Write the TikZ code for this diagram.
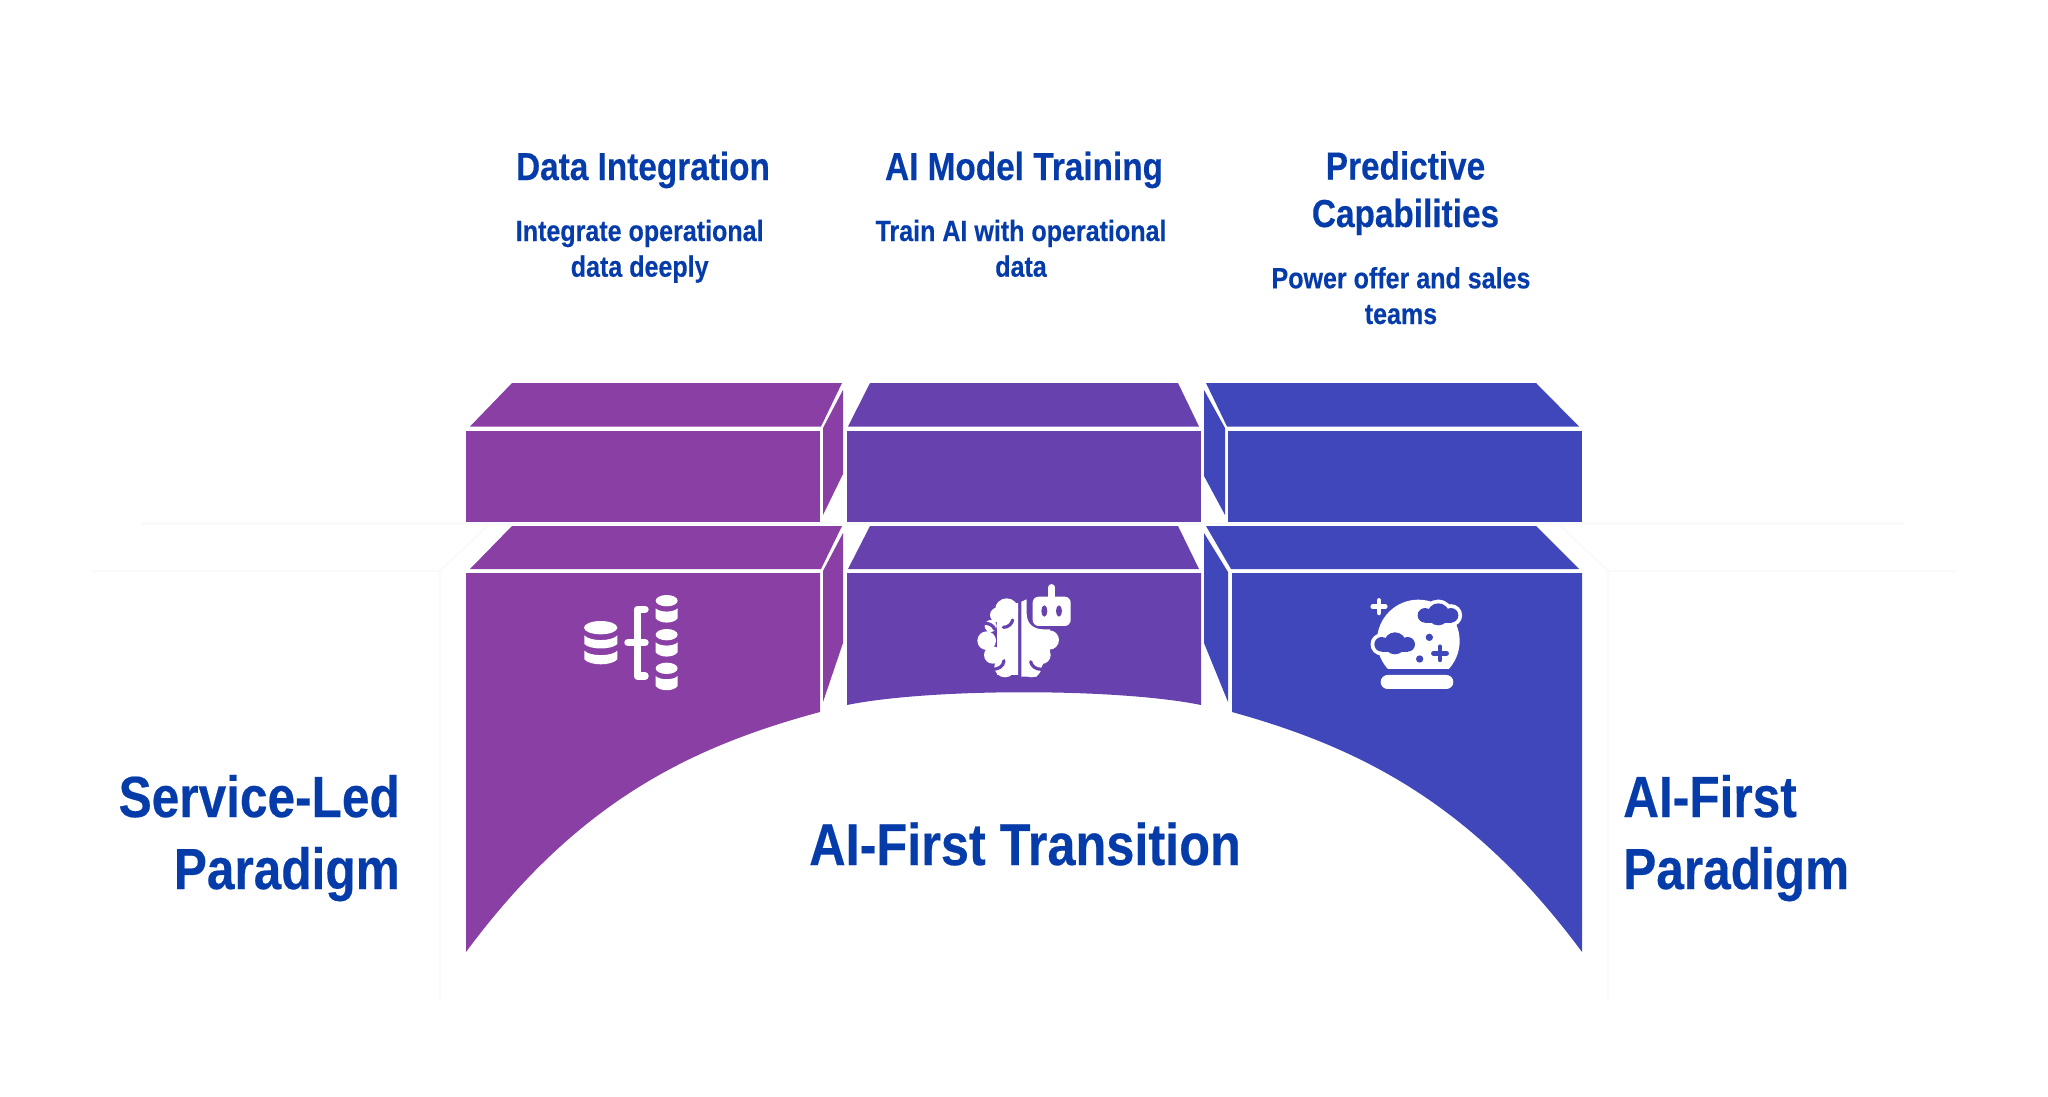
\documentclass[tikz,border=0pt]{standalone}
\usepackage{fontspec}
\setmainfont[FakeStretch=0.855,BoldFeatures={FakeBold=0.35}]{Liberation Sans}
\definecolor{purplebox}{HTML}{8A3FA5}
\definecolor{violetbox}{HTML}{6742AE}
\definecolor{bluebox}{HTML}{4047BA}
\definecolor{labelblue}{HTML}{063CAA}
\definecolor{faintline}{HTML}{FAFAFA}
\tikzset{
  headlbl/.style={anchor=base,align=center,text=labelblue,font=\fontsize{39}{47.5}\selectfont\bfseries,inner sep=0pt},
  sublbl/.style={anchor=base,align=center,text=labelblue,font=\fontsize{29.3}{35.7}\selectfont\bfseries,inner sep=0pt},
  biglbl/.style={anchor=base,text=labelblue,font=\fontsize{58}{72}\selectfont\bfseries,inner sep=0pt},
  iconline/.style={draw=white,line cap=round,line join=round},
  braincut/.style={draw=violetbox,line width=3.2pt,line cap=round},
}
\newcommand{\candisk}[1]{
  \fill[white](290,#1)ellipse[x radius=33,y radius=17];
  \fill[white](257,#1+23)..controls(270,#1+36)and(310,#1+36)..(323,#1+23)--(323,#1+53)..controls(310,#1+70)and(270,#1+70)..(257,#1+53)--cycle;
}
\newcommand{\cloudshape}[2]{(#1-40,#2+3)circle[radius=22](#1,#2)circle[radius=33](#1+38,#2+3)circle[radius=22]}
\begin{document}
\begin{tikzpicture}[x=1pt,y=-1pt]
        \useasboundingbox(0,0)rectangle(2048,1097);

        \draw[faintline,line width=2.5pt](142,523.5)--(1904,523.5);
        \draw[faintline,line width=2.5pt](93,571)--(440,571)--(440,1002);
        \draw[faintline,line width=2.5pt](440,571)--(490,523.5);
        \draw[faintline,line width=2.5pt](1955,571)--(1608,571)--(1608,1002);
        \draw[faintline,line width=2.5pt](1608,571)--(1558,523.5);

        \fill[purplebox](470,426.5)--(512,383)--(842,383)--(821,426.5)--cycle;
        \fill[purplebox](466,431)rectangle(820,522);
        \fill[purplebox](823,428)--(843,390)--(843,474)--(823,515)--cycle;
        \fill[purplebox](470,569)--(512,526)--(842,526)--(821,569)--cycle;
        \fill[purplebox](823,571)--(843,533)--(843,643)--(823,702)--cycle;
        \fill[purplebox](466,573)--(820,573)--(820,712)..controls(690,747)and(577,802)..(466,952)--cycle;

        \fill[violetbox](848,426.5)--(870,383)--(1178,383)--(1199,426.5)--cycle;
        \fill[violetbox](847,431)rectangle(1201,522);
        \fill[violetbox](848,569)--(870,526)--(1178,526)--(1199,569)--cycle;
        \fill[violetbox](847,573)--(1201,573)--(1201,705)..controls(1118,688)and(930,688)..(847,705)--cycle;

        \fill[bluebox](1206,383)--(1536,383)--(1579,426.5)--(1227,426.5)--cycle;
        \fill[bluebox](1228,431)rectangle(1582,522);
        \fill[bluebox](1204,390)--(1225,428)--(1225,515)--(1204,476)--cycle;
        \fill[bluebox](1206,526)--(1536,526)--(1579,569)--(1231,569)--cycle;
        \fill[bluebox](1204,533)--(1228,572)--(1228,702)--(1204,643)--cycle;
        \fill[bluebox](1232,573)--(1582,573)--(1582,952)..controls(1471,802)and(1358,747)..(1232,712)--cycle;

        \begin{scope}[shift={(570,580)},x=0.3333pt,y=-0.3333pt]
            \fill[white](92,143)ellipse[x radius=50,y radius=20];
            \fill[white](43,166)..controls(60,185)and(125,185)..(142,166)--(142,192)..controls(125,210)and(60,210)..(43,192)--cycle;
            \fill[white](43,212)..controls(60,230)and(125,230)..(142,212)--(142,238)..controls(125,258)and(60,258)..(43,238)--cycle;
            \candisk{62}
            \candisk{164}
            \candisk{265}
            \draw[iconline,line width=7.5pt](225,88)--(202,88)--(202,288)--(225,288);
            \draw[iconline,line width=7.5pt](174,188)--(225,188);
        \end{scope}

        \begin{scope}[shift={(960,570)},x=0.3333pt,y=-0.3333pt]
            \begin{scope}
                \clip(0,0)rectangle(174,340);
                \fill[white](140,120)circle[radius=35](112,135)circle[radius=22](92,168)circle[radius=18](80,212)circle[radius=28](98,255)circle[radius=26](135,290)circle[radius=32];
                \fill[white](110,100)rectangle(180,315);
            \end{scope}
            \draw[braincut](68,160)..controls(85,158)and(100,165)..(104,178);
            \draw[braincut](130,172)..controls(145,172)and(155,162)..(158,150);
            \draw[braincut](132,272)..controls(130,290)and(115,298)..(98,298);
            \fill[white](184,95)--(200,88)--(200,130)..controls(200,165)and(225,178)..(250,178)--(270,178)--(270,240)--(230,320)--(184,320)--cycle;
            \fill[white](268,210)circle[radius=29](245,255)circle[radius=27](215,293)circle[radius=29];
            \draw[braincut](212,275)..controls(215,290)and(228,298)..(245,298);
            \fill[white,rounded corners=6pt](218,80)rectangle(332,168);
            \draw[iconline,line width=6.5pt](275,52)--(275,85);
            \fill[violetbox](253,123)ellipse[x radius=9,y radius=17];
            \fill[violetbox](297,123)ellipse[x radius=9,y radius=17];
        \end{scope}

        \begin{scope}[shift={(1350,585)},x=0.3333pt,y=-0.3333pt]
            \begin{scope}
                \clip(0,0)rectangle(400,252);
                \fill[white](205,168)circle[radius=124];
            \end{scope}
            \filldraw[white,line width=7.5pt]\cloudshape{265}{88};
            \filldraw[white,line width=7.5pt]\cloudshape{135}{175};
            \fill[bluebox]\cloudshape{265}{88};
            \fill[bluebox](225,80)rectangle(305,113);
            \fill[bluebox]\cloudshape{135}{175};
            \fill[bluebox](95,167)rectangle(173,200);
            \fill[bluebox](238,157)circle[radius=11];
            \fill[bluebox](209,222)circle[radius=11];
            \draw[bluebox,line width=4.5pt,line cap=round](250,205)--(290,205);
            \draw[bluebox,line width=4.5pt,line cap=round](270,185)--(270,225);
            \draw[iconline,line width=4.5pt](68,65)--(106,65);
            \draw[iconline,line width=4.5pt](87,46)--(87,84);
            \fill[white,rounded corners=7pt](92,270)rectangle(310,312);
        \end{scope}

        \node[headlbl](datahead)at(643,180){Data Integration};
        \node[sublbl](datasub)at(639.7,276.7){Integrate operational\\data deeply};
        \node[headlbl](trainhead)at(1024,180){AI Model Training};
        \node[sublbl](trainsub)at(1021,276.7){Train AI with operational\\data};
        \node[headlbl](predhead)at(1405.5,227){Predictive\\Capabilities};
        \node[sublbl](predsub)at(1401,324){Power offer and sales\\teams};

        \node[biglbl,anchor=base east](serviceone)at(400,817){Service-Led};
        \node[biglbl,anchor=base east](servicetwo)at(400,889){Paradigm};
        \node[biglbl,anchor=base west](firstone)at(1623,817){AI-First};
        \node[biglbl,anchor=base west](firsttwo)at(1623,889){Paradigm};
        \node[biglbl,font=\fontsize{59}{72}\selectfont\bfseries](transition)at(1025,865){AI-First Transition};
\end{tikzpicture}
\end{document}
